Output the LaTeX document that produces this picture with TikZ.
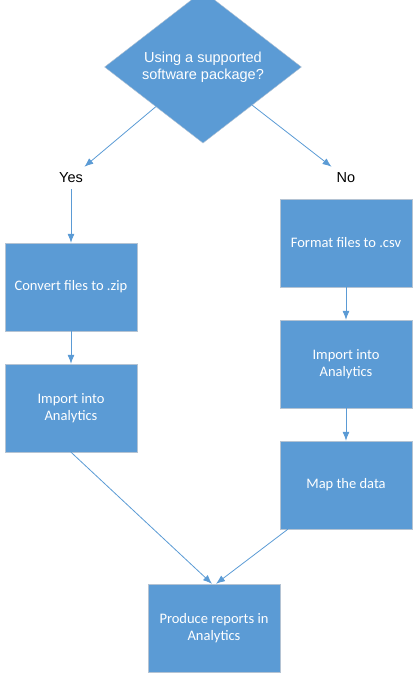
\documentclass[tikz,border=0pt]{standalone}
\usepackage{fontspec}
\setmainfont{Carlito}
\newfontfamily\arialfont{Liberation Sans}
\usetikzlibrary{shapes.geometric,arrows.meta,positioning}
\definecolor{boxblue}{HTML}{5B9BD5}
\definecolor{boxline}{HTML}{B4C3D3}
\tikzset
{
    stepbox/.style  = {rectangle, fill=boxblue, draw=boxline, text=white, align=center, minimum width=132pt, minimum height=88pt, font=\fontsize{14.5}{17}\selectfont},
    question/.style = {diamond, fill=boxblue, draw=boxline, text=white, align=center, minimum width=197pt, minimum height=130pt, inner sep=0pt, font=\arialfont\fontsize{14.5}{17}\selectfont},
    answer/.style   = {inner sep=6pt, font=\arialfont\fontsize{14.5}{17}\selectfont},
    link/.style     = {draw=boxblue, line width=0.8pt}
}

\begin{document}
\begin{tikzpicture}[->, >={Latex[length=9pt,width=7pt]}, x=1pt, y=-1pt]
\useasboundingbox (0,0) rectangle (419,675);
\node [question] at (203,67) (q) {Using a supported\\software package?};
\node [answer] at (71,178) (yes) {Yes};
\node [answer] at (346,178) (no) {No};
\node [stepbox] at (71,287) (zip) {Convert files to .zip};
\node [stepbox] at (71,408) (imp1) {Import into\\Analytics};
\node [stepbox] at (346,243) (csv) {Format files to .csv};
\node [stepbox] at (346,364) (imp2) {Import into\\Analytics};
\node [stepbox] at (346,485) (map) {Map the data};
\node [stepbox] at (214,628) (prod) {Produce reports in\\Analytics};
\draw [link] (q) -- (yes);
\draw [link] (q) -- (no);
\draw [link] (yes) -- (zip);
\draw [link] (zip) -- (imp1);
\draw [link] (csv) -- (imp2);
\draw [link] (imp2) -- (map);
\draw [link] (imp1.south) -- ([xshift=-2pt]prod.north);
\draw [link] (map) -- ([xshift=2pt]prod.north);
\end{tikzpicture}
\end{document}
